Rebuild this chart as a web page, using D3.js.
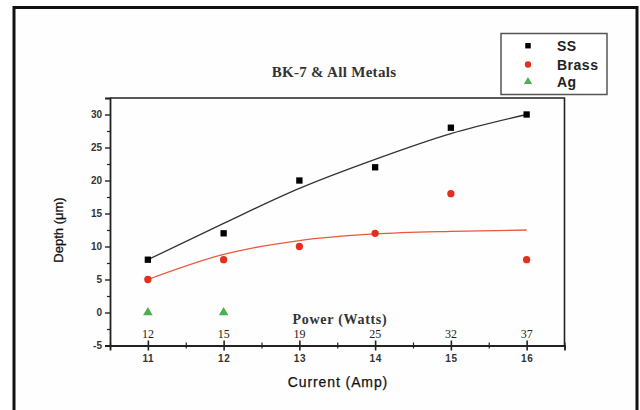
<!DOCTYPE html>
<html><head><meta charset="utf-8">
<script src="https://cdn.jsdelivr.net/npm/d3@7"></script>
<style>body{margin:0;background:#fff}svg{display:block}</style>
</head><body>
<svg id="c" width="640" height="410"></svg>
<script>
const currents = [11, 12, 13, 14, 15, 16];
const powerLabels = ["12", "15", "19", "25", "32", "37"];
const ssDepth = [8, 12, 20, 22, 28, 30];
const brassDepth = [5, 8, 10, 12, 18, 8];
const agCurrents = [11, 12];
const agDepth = [0, 0];
const ssFit = [8, 13.5, 18.8, 23.2, 27.1, 30];
const brassFit = [5, 8.8, 10.9, 11.9, 12.3, 12.5];
const yTicks = [-5, 0, 5, 10, 15, 20, 25, 30];
const seriesNames = ["SS", "Brass", "Ag"];

const svg = d3.select("#c");
const L = 110, R = 564.5, T = 98, B = 345.5;
const x = d3.scaleLinear().domain([10.5, 16.5]).range([L, R]);
const y = d3.scaleLinear().domain([-5, 32.5]).range([B, T]);

// outer frame
svg.append("rect").attr("x", 14).attr("y", 7.5).attr("width", 623).attr("height", 420)
  .attr("fill", "#fefefe").attr("stroke", "#111").attr("stroke-width", 3);

// title
svg.append("text").attr("x", 334).attr("y", 77).attr("text-anchor", "middle")
  .attr("font-family", "Liberation Serif, Times New Roman, serif").attr("font-weight", "bold")
  .attr("font-size", 15).attr("letter-spacing", 0.3).attr("fill", "#333").text("BK-7 & All Metals");

// plot box top/right
svg.append("path").attr("d", `M${L},${T}H${R}V${B}`).attr("fill", "none")
  .attr("stroke", "#222").attr("stroke-width", 1.6);

// y axis
const yAxis = d3.axisLeft(y).tickValues(yTicks).tickSize(5).tickPadding(3).tickFormat(d => String(d));
const gy = svg.append("g").attr("transform", `translate(${L},0)`).call(yAxis);
gy.select(".domain").attr("stroke", "#222").attr("stroke-width", 1.8);
gy.selectAll(".tick line").attr("stroke", "#222").attr("stroke-width", 1.4);
gy.selectAll(".tick text").attr("font-family", "Liberation Sans, Arial, sans-serif")
  .attr("font-weight", "bold").attr("font-size", 10).attr("fill", "#333");
const yMinor = d3.axisLeft(y).tickValues(d3.range(-2.5, 33, 5)).tickSize(3).tickFormat("");
const gym = svg.append("g").attr("transform", `translate(${L},0)`).call(yMinor);
gym.select(".domain").remove();
gym.selectAll(".tick line").attr("stroke", "#222").attr("stroke-width", 1.2);

// x axis (ticks crossing)
const xAxis = d3.axisBottom(x).tickValues(currents).tickSize(5).tickPadding(4).tickFormat(d3.format("d"));
const gx = svg.append("g").attr("transform", `translate(0,${B})`).call(xAxis);
gx.select(".domain").attr("stroke", "#222").attr("stroke-width", 1.8);
gx.selectAll(".tick line").attr("y1", -5).attr("stroke", "#222").attr("stroke-width", 1.6);
gx.selectAll(".tick text").attr("font-family", "Liberation Sans, Arial, sans-serif")
  .attr("font-weight", "bold").attr("font-size", 10).attr("letter-spacing", 0.6).attr("fill", "#333");
const xMinor = d3.axisBottom(x).tickValues(d3.range(10.5, 16.6, 1)).tickSize(3).tickFormat("");
const gxm = svg.append("g").attr("transform", `translate(0,${B})`).call(xMinor);
gxm.select(".domain").remove();
gxm.selectAll(".tick line").attr("y1", -3).attr("stroke", "#222").attr("stroke-width", 1.2);

// power labels
svg.append("g").selectAll("text").data(currents).join("text")
  .attr("x", d => x(d)).attr("y", 338).attr("text-anchor", "middle")
  .attr("font-family", "Liberation Serif, Times New Roman, serif").attr("font-size", 12)
  .attr("fill", "#222").text((d, i) => powerLabels[i]);
svg.append("text").attr("x", 340).attr("y", 324).attr("text-anchor", "middle")
  .attr("font-family", "Liberation Serif, Times New Roman, serif").attr("font-weight", "bold")
  .attr("font-size", 14).attr("letter-spacing", 0.7).attr("fill", "#333").text("Power (Watts)");

// axis labels
svg.append("text").attr("x", 338).attr("y", 387).attr("text-anchor", "middle")
  .attr("font-family", "Liberation Sans, Arial, sans-serif").attr("font-size", 14)
  .attr("letter-spacing", 0.9).attr("fill", "#111").attr("stroke", "#111").attr("stroke-width", 0.25)
  .text("Current (Amp)");
svg.append("text").attr("transform", "translate(63,230) rotate(-90)").attr("text-anchor", "middle")
  .attr("font-family", "Liberation Sans, Arial, sans-serif").attr("font-size", 13)
  .attr("fill", "#111").attr("stroke", "#111").attr("stroke-width", 0.25).text("Depth (\u03bcm)");

// fit lines
const line = d3.line().x((d, i) => x(currents[i])).y(d => y(d)).curve(d3.curveMonotoneX);
svg.append("path").attr("d", line(ssFit)).attr("fill", "none").attr("stroke", "#333").attr("stroke-width", 1.3);
svg.append("path").attr("d", line(brassFit)).attr("fill", "none").attr("stroke", "#e8583e").attr("stroke-width", 1.3);

// markers
const sq = d3.symbol().type(d3.symbolSquare).size(40);
const ci = d3.symbol().type(d3.symbolCircle).size(42);
const tr = d3.symbol().type(d3.symbolTriangle).size(40);
svg.append("g").selectAll("path").data(ssDepth).join("path")
  .attr("transform", (d, i) => `translate(${x(currents[i])},${y(d)})`).attr("d", sq()).attr("fill", "#000");
svg.append("g").selectAll("path").data(brassDepth).join("path")
  .attr("transform", (d, i) => `translate(${x(currents[i])},${y(d)})`).attr("d", ci()).attr("fill", "#e3301e");
svg.append("g").selectAll("path").data(agDepth).join("path")
  .attr("transform", (d, i) => `translate(${x(agCurrents[i])},${y(d)})`).attr("d", tr()).attr("fill", "#4caf50");

// legend
svg.append("rect").attr("x", 501).attr("y", 33.5).attr("width", 106).attr("height", 61)
  .attr("fill", "#fff").attr("stroke", "#555").attr("stroke-width", 1.5);
const legY = [45.7, 64.5, 81.7];
const legSz = [30, 32, 30];
const legTypes = [d3.symbolSquare, d3.symbolCircle, d3.symbolTriangle];
const legCol = ["#000", "#e3301e", "#4caf50"];
const lg = svg.append("g").selectAll("g").data(seriesNames).join("g")
  .attr("transform", (d, i) => `translate(0,${legY[i]})`);
lg.append("path").attr("transform", "translate(528,0)")
  .attr("d", (d, i) => d3.symbol().type(legTypes[i]).size(legSz[i])()).attr("fill", (d, i) => legCol[i]);
lg.append("text").attr("x", 557).attr("y", 5).attr("font-family", "Liberation Sans, Arial, sans-serif")
  .attr("font-weight", "bold").attr("font-size", 14).attr("letter-spacing", 0.5).attr("fill", "#222").text(d => d);
</script>
</body></html>
